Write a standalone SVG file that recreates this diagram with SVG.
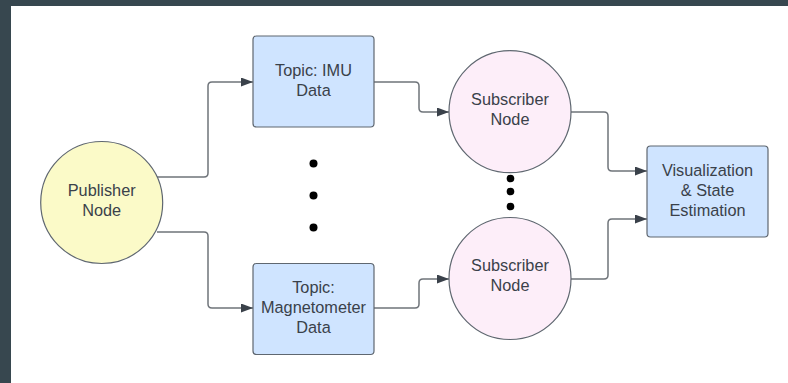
<svg xmlns="http://www.w3.org/2000/svg" width="788" height="383" viewBox="0 0 788 383">
  <defs>
    <marker id="arrow" viewBox="0 0 12 9" refX="12" refY="4.5" markerWidth="12" markerHeight="9" markerUnits="userSpaceOnUse" orient="auto">
      <path d="M0,0 L12,4.5 L0,9 Z" fill="#3a414a"/>
    </marker>
    <style>
      .lbl { font-family: "Liberation Sans", Arial, sans-serif; font-size: 16.3px; fill: #3a414a; text-anchor: middle; }
      .topic { fill: #cfe4ff; stroke: #5f6770; stroke-width: 1.2; }
      .pub { fill: #fbfac8; stroke: #5f6770; stroke-width: 1.2; }
      .sub { fill: #fdeef9; stroke: #5f6770; stroke-width: 1.2; }
      .dot { fill: #000000; }
      .conn { fill: none; stroke: #6f747a; stroke-width: 1.5; marker-end: url(#arrow); }
    </style>
  </defs>

  <!-- frame -->
  <rect x="0" y="0" width="788" height="383" fill="#37474f"/>
  <rect x="11" y="6" width="777" height="377" fill="#ffffff"/>

  <!-- connectors -->
  <g id="connectors">
    <path class="conn" d="M157,177 H204 Q208,177 208,173 V86 Q208,82 212,82 H253"/>
    <path class="conn" d="M157,232 H204 Q208,232 208,236 V304 Q208,308 212,308 H253"/>
    <path class="conn" d="M374,82 H415 Q419,82 419,86 V108 Q419,112 423,112 H449"/>
    <path class="conn" d="M374,308 H415 Q419,308 419,304 V283 Q419,279 423,279 H449"/>
    <path class="conn" d="M571,112 H604 Q608,112 608,116 V167 Q608,171 612,171 H647"/>
    <path class="conn" d="M571,279 H604 Q608,279 608,275 V223 Q608,219 612,219 H647"/>
  </g>

  <!-- publisher -->
  <g id="publisher">
    <circle class="pub" cx="101.7" cy="202.5" r="61"/>
    <text class="lbl" x="101.7" y="196">Publisher</text>
    <text class="lbl" x="101.7" y="216">Node</text>
  </g>

  <!-- topics -->
  <g id="topic-imu">
    <rect class="topic" x="253" y="36" width="121" height="91" rx="3.5"/>
    <text class="lbl" x="313.5" y="76">Topic: IMU</text>
    <text class="lbl" x="313.5" y="96">Data</text>
  </g>
  <g id="topic-mag">
    <rect class="topic" x="253" y="263.5" width="121" height="91" rx="3.5"/>
    <text class="lbl" x="313.5" y="293">Topic:</text>
    <text class="lbl" x="313.5" y="313">Magnetometer</text>
    <text class="lbl" x="313.5" y="333">Data</text>
  </g>

  <!-- ellipsis between topics -->
  <g id="topic-ellipsis">
    <circle class="dot" cx="313.5" cy="163.5" r="4"/>
    <circle class="dot" cx="313.5" cy="195.5" r="4"/>
    <circle class="dot" cx="313.5" cy="227.5" r="4"/>
  </g>

  <!-- subscribers -->
  <g id="subscriber-1">
    <circle class="sub" cx="510" cy="111.7" r="61"/>
    <text class="lbl" x="510" y="105">Subscriber</text>
    <text class="lbl" x="510" y="125">Node</text>
  </g>
  <g id="subscriber-2">
    <circle class="sub" cx="510" cy="278.5" r="61"/>
    <text class="lbl" x="510" y="271">Subscriber</text>
    <text class="lbl" x="510" y="291">Node</text>
  </g>

  <!-- ellipsis between subscribers -->
  <g id="subscriber-ellipsis">
    <circle class="dot" cx="510.5" cy="178.5" r="3.8"/>
    <circle class="dot" cx="510.5" cy="191.5" r="3.8"/>
    <circle class="dot" cx="510.5" cy="206.5" r="3.8"/>
  </g>

  <!-- sink -->
  <g id="visualization">
    <rect class="topic" x="647" y="146" width="121" height="91" rx="3.5"/>
    <text class="lbl" x="707.5" y="176">Visualization</text>
    <text class="lbl" x="707.5" y="196">&amp; State</text>
    <text class="lbl" x="707.5" y="216">Estimation</text>
  </g>
</svg>
